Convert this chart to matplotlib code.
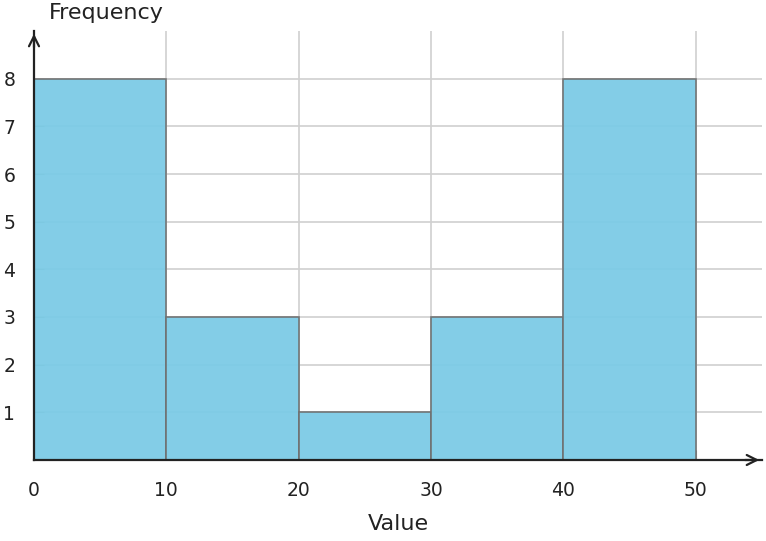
import matplotlib.pyplot as plt
import numpy as np

plt.rcParams['font.family'] = ['DejaVu Sans']

bin_edges = [0, 10, 20, 30, 40, 50]
frequencies = [8, 3, 1, 3, 8]
x_ticks = [0, 10, 20, 30, 40, 50]
y_ticks = [1, 2, 3, 4, 5, 6, 7, 8]

fig = plt.figure(figsize=(7.66, 5.41), dpi=100)
ax = fig.add_axes([34 / 766, 1 - 460 / 541, (762 - 34) / 766, (460 - 31) / 541])

ax.grid(True, color='#d0d0d0', linewidth=1.2)
ax.set_axisbelow(True)

widths = np.diff(bin_edges)
ax.bar(bin_edges[:-1], frequencies, width=widths, align='edge',
       color='#7ccbe6', alpha=0.95, edgecolor='#707070', linewidth=1.2, zorder=2)

ax.set_xlim(0, 55)
ax.set_ylim(0, 9)
ax.set_xticks(x_ticks)
ax.set_yticks(y_ticks)

for s in ['top', 'right']:
    ax.spines[s].set_visible(False)
for s in ['left', 'bottom']:
    ax.spines[s].set_color('#222222')
    ax.spines[s].set_linewidth(1.6)

ax.tick_params(axis='both', direction='in', length=7, color='#999999',
               labelsize=13.5, labelcolor='#222222')
ax.tick_params(axis='x', pad=15)
ax.tick_params(axis='y', pad=13.5)

# arrow heads on axes
ax.annotate('', xy=(55, 0), xytext=(53.5, 0), xycoords='data',
            arrowprops=dict(arrowstyle='->', color='#222222', lw=1.6, mutation_scale=18),
            annotation_clip=False)
ax.annotate('', xy=(0, 9), xytext=(0, 8.6), xycoords='data',
            arrowprops=dict(arrowstyle='->', color='#222222', lw=1.6, mutation_scale=18),
            annotation_clip=False)

fig.text(398 / 766, 1 - 524 / 541, 'Value', fontsize=16, color='#222222',
         ha='center', va='center')
fig.text(106 / 766, 1 - 13 / 541, 'Frequency', fontsize=16, color='#222222',
         ha='center', va='center')

fig.savefig('out.png', dpi=100)
